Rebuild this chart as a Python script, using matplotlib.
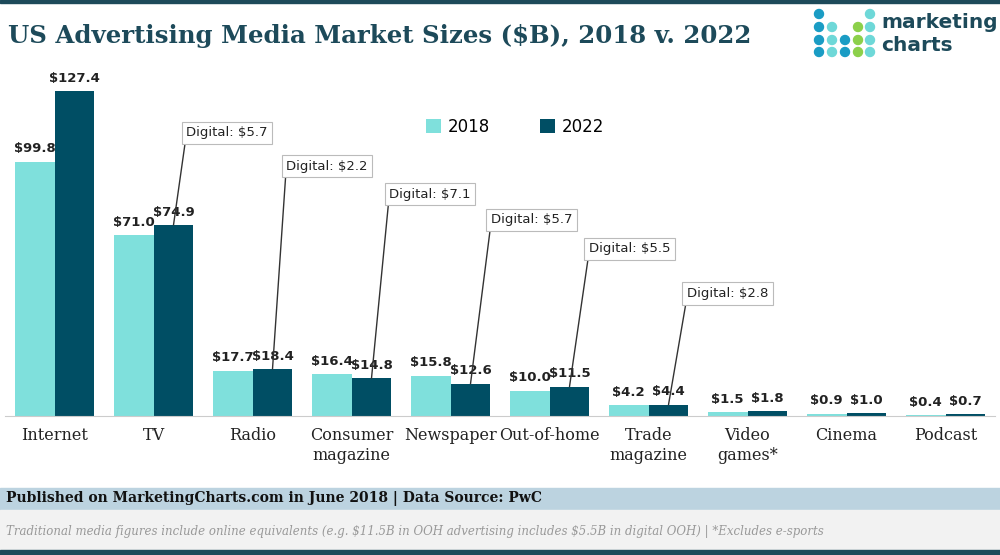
import numpy as np
import matplotlib
matplotlib.use('Agg')
import matplotlib.pyplot as plt
from matplotlib.patches import Rectangle, Ellipse

categories = ['Internet', 'TV', 'Radio', 'Consumer\nmagazine', 'Newspaper', 'Out-of-home',
              'Trade\nmagazine', 'Video\ngames*', 'Cinema', 'Podcast']
v2018 = [99.8, 71.0, 17.7, 16.4, 15.8, 10.0, 4.2, 1.5, 0.9, 0.4]
v2022 = [127.4, 74.9, 18.4, 14.8, 12.6, 11.5, 4.4, 1.8, 1.0, 0.7]
digital = {1: 5.7, 2: 2.2, 3: 7.1, 4: 5.7, 5: 5.5, 6: 2.8}
# box anchor (x, y) in data units for each callout
callout_pos = {1: (1.33, 111), 2: (2.34, 98), 3: (3.38, 87), 4: (4.41, 77), 5: (5.40, 65.5), 6: (6.39, 48)}

c18 = '#7fe0dc'
c22 = '#004e64'
dark = '#1d4a5a'

fig = plt.figure(figsize=(10, 5.55), dpi=100)
ax = fig.add_axes([0.005, 1 - 416 / 555, 0.99, (416 - 60) / 555])
x = np.arange(len(categories))
w = 0.404
ax.bar(x - w / 2, v2018, w, color=c18, label='2018')
ax.bar(x + w / 2, v2022, w, color=c22, label='2022')
for i in x:
    ax.text(i - w / 2, v2018[i] + 2.5, f'${v2018[i]:.1f}', ha='center', va='bottom',
            fontsize=9.5, fontweight='bold', color='#222222')
    ax.text(i + w / 2, v2022[i] + 2.5, f'${v2022[i]:.1f}', ha='center', va='bottom',
            fontsize=9.5, fontweight='bold', color='#222222')
for i, d in digital.items():
    ax.annotate(f'Digital: ${d:.1f}', xy=(i + w / 2, v2022[i]), xytext=callout_pos[i],
                ha='left', va='center', fontsize=9.5, color='#222222',
                bbox=dict(boxstyle='square,pad=0.35', fc='white', ec='#bbbbbb', lw=0.8),
                arrowprops=dict(arrowstyle='-', color='#333333', lw=1, relpos=(0, 0.3),
                                shrinkA=0, shrinkB=0))
ax.set_xlim(-0.5, 9.5)
ax.set_ylim(0, (416 - 60) / 2.55)
ax.set_yticks([])
ax.set_xticks(x)
ax.set_xticklabels(categories, fontsize=11.5, family='DejaVu Serif', color='#222222')
ax.tick_params(axis='x', length=0, pad=8)
for s in ['top', 'right', 'left']:
    ax.spines[s].set_visible(False)
ax.spines['bottom'].set_color('#cccccc')
ax.legend(loc='upper left', bbox_to_anchor=(0.41, 0.88), ncol=2, frameon=False,
          fontsize=12, handlelength=0.9, handleheight=0.9, columnspacing=3, handletextpad=0.4)

# title and header
fig.text(0.008, 0.935, 'US Advertising Media Market Sizes ($B), 2018 v. 2022', fontsize=17.6,
         fontweight='bold', family='DejaVu Serif', color=dark, va='center')
fig.add_artist(Rectangle((0, 1 - 3 / 555), 1, 3 / 555, color=dark, transform=fig.transFigure))

# logo
lx = [819, 832, 845, 858, 870]
ly = [14, 27, 40, 52]
blue, teal, green = '#1a9cc4', '#6ed8d8', '#8cd04a'
pattern = [[blue, None, None, None, teal],
           [blue, teal, None, green, teal],
           [blue, teal, blue, green, teal],
           [blue, teal, blue, green, teal]]
for r, row in enumerate(pattern):
    for c, col in enumerate(row):
        if col:
            fig.add_artist(Ellipse((lx[c] / 1000, 1 - ly[r] / 555), 9 / 1000, 9 / 555, color=col,
                                   transform=fig.transFigure))
fig.text(0.881, 1 - 22 / 555, 'marketing', fontsize=14.5, fontweight='bold', color=dark, va='center')
fig.text(0.881, 1 - 45 / 555, 'charts', fontsize=14.5, fontweight='bold', color=dark, va='center')

# footer
fig.add_artist(Rectangle((0, 1 - 510 / 555), 1, 22 / 555, color='#bcd3e0', transform=fig.transFigure))
fig.add_artist(Rectangle((0, 1 - 550 / 555), 1, 40 / 555, color='#f2f2f2', transform=fig.transFigure))
fig.add_artist(Rectangle((0, 0), 1, 5 / 555, color=dark, transform=fig.transFigure))
fig.text(0.006, 1 - 499 / 555, 'Published on MarketingCharts.com in June 2018 | Data Source: PwC',
         fontsize=10, fontweight='bold', family='DejaVu Serif', color='#111111', va='center')
fig.text(0.006, 1 - 531 / 555,
         r'Traditional media figures include online equivalents (e.g. \$11.5B in OOH advertising includes '
         r'\$5.5B in digital OOH) | *Excludes e-sports',
         fontsize=8.5, style='italic', family='DejaVu Serif', color='#999999', va='center')

fig.savefig('out.png', dpi=100)
